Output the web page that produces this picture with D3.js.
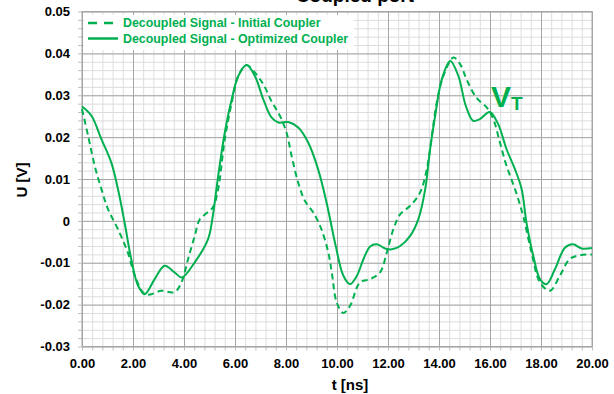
<!DOCTYPE html>
<html>
<head>
<meta charset="utf-8">
<script src="https://cdn.jsdelivr.net/npm/d3@7"></script>
<style>
  body { margin: 0; background: #fff; }
  svg { display: block; font-family: "Liberation Sans", Arial, sans-serif; }
</style>
</head>
<body>
<div class="chart"></div>
<script>
/*** DATA ***/
// time axis [ns] and signal [V]
const tInitial = [0, 0.24, 0.5, 0.76, 1.02, 1.41, 1.8, 2.07, 2.46, 2.72, 3.1, 3.63, 3.9, 4.16, 4.42, 4.62, 4.88, 5.14, 5.34, 5.6, 5.87, 6.13, 6.45, 6.78, 7.11, 7.43, 7.76, 8.02, 8.22, 8.48, 8.74, 9.07, 9.39, 9.66, 9.8, 9.99, 10.25, 10.51, 10.9, 11.3, 11.69, 11.95, 12.21, 12.48, 12.87, 13.26, 13.52, 13.72, 13.91, 14.17, 14.57, 14.85, 15.08, 15.47, 15.87, 16.13, 16.39, 16.65, 16.98, 17.3, 17.63, 17.96, 18.35, 18.74, 19.13, 19.53, 20];
const uInitial = [0.0267, 0.0203, 0.0131, 0.0076, 0.0028, -0.002, -0.0076, -0.0131, -0.0175, -0.0175, -0.0167, -0.017, -0.0147, -0.0091, -0.0036, 0.0004, 0.0018, 0.0033, 0.0076, 0.0195, 0.0282, 0.0346, 0.0372, 0.0354, 0.0326, 0.0286, 0.0251, 0.0211, 0.0155, 0.0091, 0.0048, 0.002, -0.002, -0.0076, -0.0125, -0.0195, -0.022, -0.0203, -0.0147, -0.0139, -0.0123, -0.0076, -0.002, 0.0016, 0.0036, 0.0068, 0.0123, 0.0203, 0.0282, 0.0346, 0.039, 0.0372, 0.0338, 0.0294, 0.0271, 0.0243, 0.0187, 0.0131, 0.0076, 0.0012, -0.0076, -0.0147, -0.0167, -0.0131, -0.0091, -0.0082, -0.008];

const tOptimized = [0, 0.37, 0.76, 1.15, 1.41, 1.67, 1.93, 2.2, 2.46, 2.85, 3.24, 3.63, 3.92, 4.42, 4.94, 5.1, 5.34, 5.6, 5.87, 6.13, 6.45, 6.78, 7.11, 7.43, 7.7, 8.09, 8.48, 8.87, 9.26, 9.59, 9.95, 10.25, 10.51, 10.78, 11.04, 11.3, 11.56, 11.89, 12.15, 12.48, 12.87, 13.19, 13.46, 13.65, 13.85, 14.11, 14.44, 14.76, 15.05, 15.34, 15.6, 15.99, 16.32, 16.65, 16.98, 17.24, 17.43, 17.7, 17.96, 18.22, 18.55, 18.94, 19.26, 19.59, 20];
const uOptimized = [0.0273, 0.0251, 0.0195, 0.0139, 0.0076, -0.0004, -0.0091, -0.0155, -0.0175, -0.0139, -0.0107, -0.0123, -0.0135, -0.0099, -0.0044, 0.0, 0.0107, 0.0211, 0.029, 0.0346, 0.0372, 0.0346, 0.029, 0.0247, 0.0235, 0.0236, 0.0223, 0.0187, 0.0123, 0.0044, -0.006, -0.0131, -0.0151, -0.0131, -0.0091, -0.0061, -0.0056, -0.0066, -0.0068, -0.006, -0.0036, 0.0004, 0.0076, 0.0171, 0.0251, 0.0338, 0.0382, 0.0346, 0.0275, 0.0239, 0.0243, 0.026, 0.0231, 0.0171, 0.0123, 0.0076, -0.0004, -0.0084, -0.0139, -0.0151, -0.0115, -0.0064, -0.0056, -0.0066, -0.0065];

const seriesNames = ['Decoupled Signal - Initial Coupler', 'Decoupled Signal - Optimized Coupler'];
const xTicks = [0, 2, 4, 6, 8, 10, 12, 14, 16, 18, 20];
const yTicks = [0.05, 0.04, 0.03, 0.02, 0.01, 0, -0.01, -0.02, -0.03];
const yTickLabels = ['0.05', '0.04', '0.03', '0.02', '0.01', '0', '-0.01', '-0.02', '-0.03'];

/*** LAYOUT ***/
const width = 614, height = 394;
const plot = { left: 82, right: 592, top: 11.5, bottom: 346.5 };
const green = '#00B050';

const svg = d3.select('.chart')
  .append('svg')
  .attr('width', width)
  .attr('height', height);

const x = d3.scaleLinear().domain([0, 20]).range([plot.left, plot.right]);
const y = d3.scaleLinear().domain([-0.03, 0.05]).range([plot.bottom, plot.top]);

// minor grid (0.4 ns / 0.002 V)
const xMinor = d3.range(0, 20.001, 0.4);
const yMinor = d3.range(-0.03, 0.0501, 0.002);

svg.append('g')
  .attr('transform', `translate(0, ${plot.bottom})`)
  .call(d3.axisBottom(x).tickValues(xMinor).tickSize(-(plot.bottom - plot.top)).tickFormat(''))
  .call(g => g.select('.domain').remove())
  .call(g => g.selectAll('line').attr('stroke', '#dcdcdc'));

svg.append('g')
  .attr('transform', `translate(${plot.left}, 0)`)
  .call(d3.axisLeft(y).tickValues(yMinor).tickSize(-(plot.right - plot.left)).tickFormat(''))
  .call(g => g.select('.domain').remove())
  .call(g => g.selectAll('line').attr('stroke', '#dcdcdc'));

// small outside ticks at the minor positions
svg.append('g')
  .attr('transform', `translate(0, ${plot.bottom})`)
  .call(d3.axisBottom(x).tickValues(xMinor).tickSize(4).tickFormat(''))
  .call(g => g.select('.domain').remove())
  .call(g => g.selectAll('line').attr('stroke', '#bfbfbf'));

svg.append('g')
  .attr('transform', `translate(${plot.left}, 0)`)
  .call(d3.axisLeft(y).tickValues(yMinor).tickSize(4).tickFormat(''))
  .call(g => g.select('.domain').remove())
  .call(g => g.selectAll('line').attr('stroke', '#bfbfbf'));

// major grid + labels
svg.append('g')
  .attr('transform', `translate(0, ${plot.bottom})`)
  .call(d3.axisBottom(x).tickValues(xTicks).tickSize(-(plot.bottom - plot.top)).tickPadding(12).tickFormat(d3.format('.2f')))
  .call(g => g.select('.domain').remove())
  .call(g => g.selectAll('line').attr('stroke', '#a6a6a6'))
  .call(g => g.selectAll('text')
    .style('font-family', '"Liberation Sans", Arial, sans-serif')
    .style('font-size', '13px')
    .style('font-weight', 'bold')
    .attr('fill', '#000'));

svg.append('g')
  .attr('transform', `translate(${plot.left}, 0)`)
  .call(d3.axisLeft(y).tickValues(yTicks).tickSize(-(plot.right - plot.left)).tickPadding(12)
    .tickFormat((d, i) => yTickLabels[i]))
  .call(g => g.select('.domain').remove())
  .call(g => g.selectAll('line').attr('stroke', '#a6a6a6'))
  .call(g => g.selectAll('text')
    .style('font-family', '"Liberation Sans", Arial, sans-serif')
    .style('font-size', '13px')
    .style('font-weight', 'bold')
    .attr('fill', '#000'));

// plot frame
svg.append('rect')
  .attr('x', plot.left)
  .attr('y', plot.top)
  .attr('width', plot.right - plot.left)
  .attr('height', plot.bottom - plot.top)
  .attr('fill', 'none')
  .attr('stroke', '#a6a6a6');

/*** LINES ***/
const line = d3.line()
  .x(d => x(d[0]))
  .y(d => y(d[1]))
  .curve(d3.curveCatmullRom.alpha(0.5));

svg.append('path')
  .datum(tInitial.map((t, i) => [t, uInitial[i]]))
  .attr('d', line)
  .attr('fill', 'none')
  .attr('stroke', green)
  .attr('stroke-width', 2)
  .attr('stroke-dasharray', '6,4');

svg.append('path')
  .datum(tOptimized.map((t, i) => [t, uOptimized[i]]))
  .attr('d', line)
  .attr('fill', 'none')
  .attr('stroke', green)
  .attr('stroke-width', 2);

/*** LEGEND ***/
const legend = svg.append('g');
legend.append('rect')
  .attr('x', plot.left + 2)
  .attr('y', 15)
  .attr('width', 270)
  .attr('height', 35)
  .attr('fill', '#fff');

seriesNames.forEach((name, i) => {
  const ly = 23 + i * 15.5;
  legend.append('line')
    .attr('x1', 88).attr('x2', 118)
    .attr('y1', ly).attr('y2', ly)
    .attr('stroke', green)
    .attr('stroke-width', 2.5)
    .attr('stroke-dasharray', i === 0 ? '9,7' : null);
  legend.append('text')
    .attr('x', 123)
    .attr('y', ly)
    .attr('dy', '0.35em')
    .style('font-size', '12.4px')
    .style('font-weight', 'bold')
    .attr('fill', green)
    .text(name);
});

/*** LABELS ***/
// title, mostly cut off at the top of the picture
svg.append('text')
  .attr('x', 355)
  .attr('y', 1.5)
  .attr('text-anchor', 'middle')
  .style('font-size', '19px')
  .style('font-weight', 'bold')
  .attr('fill', '#000')
  .text('Coupled port');

svg.append('text')
  .attr('x', 350)
  .attr('y', 390)
  .attr('text-anchor', 'middle')
  .style('font-size', '15px')
  .style('font-weight', 'bold')
  .attr('fill', '#000')
  .text('t [ns]');

svg.append('text')
  .attr('transform', 'translate(27, 180) rotate(-90)')
  .attr('text-anchor', 'middle')
  .style('font-size', '15px')
  .style('font-weight', 'bold')
  .attr('fill', '#000')
  .text('U [V]');

// V_T annotation
const vt = svg.append('text')
  .attr('x', 491)
  .attr('y', 107)
  .style('font-weight', 'bold')
  .attr('fill', green);
vt.append('tspan').style('font-size', '30px').text('V');
vt.append('tspan').attr('y', 110).style('font-size', '19px').text('T');
</script>
</body>
</html>
